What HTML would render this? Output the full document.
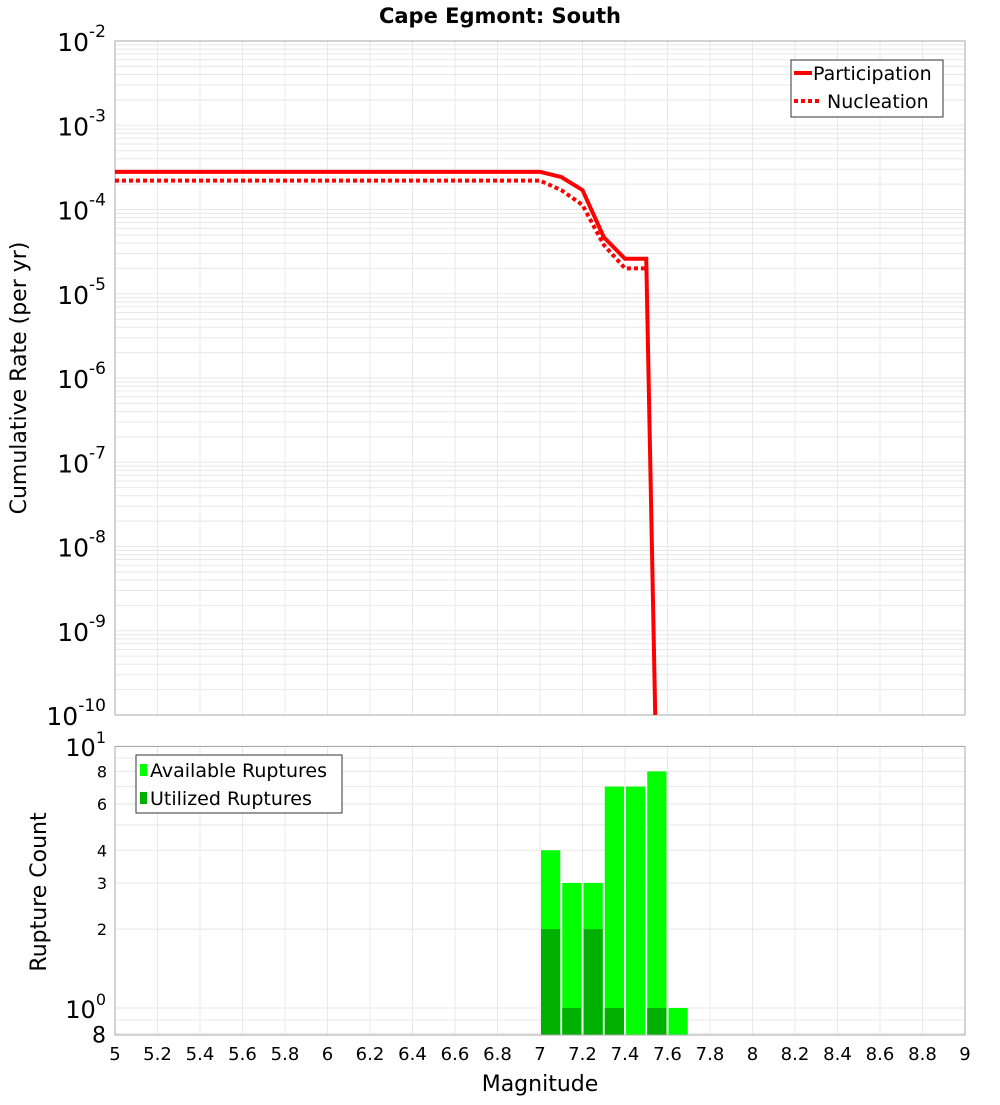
<!DOCTYPE html>
<html><head><meta charset="utf-8"><style>
body{margin:0;background:#fff;font-family:"Liberation Sans","DejaVu Sans",sans-serif}
</style></head><body>
<svg id="c" width="1000" height="1100" xmlns="http://www.w3.org/2000/svg" font-family="DejaVu Sans, Liberation Sans, sans-serif"></svg>
<script>
const xTicks=[5,5.2,5.4,5.6,5.8,6,6.2,6.4,6.6,6.8,7,7.2,7.4,7.6,7.8,8,8.2,8.4,8.6,8.8,9];
const partM=[5,7.0,7.1,7.2,7.3,7.4,7.5,7.55];
const partV=[2.8e-4,2.8e-4,2.43e-4,1.7e-4,4.7e-5,2.6e-5,2.6e-5,1e-11];
const nuclM=[5,7.0,7.1,7.2,7.3,7.4,7.5];
const nuclV=[2.2e-4,2.2e-4,1.7e-4,1.13e-4,3.8e-5,2.0e-5,2.0e-5];
const binM=[7.05,7.15,7.25,7.35,7.45,7.55,7.65];
const availV=[4,3,3,7,7,8,1];
const usedV=[2,1,2,1,0,1,0];
const topExp=[-2,-3,-4,-5,-6,-7,-8,-9,-10];
const botTicks=[[10,'10','1'],[8,'8',''],[6,'6',''],[4,'4',''],[3,'3',''],[2,'2',''],[1,'10','0'],[0.8,'8','']];

const S=document.getElementById('c'),NS='http://www.w3.org/2000/svg';
function el(t,a,p){const e=document.createElementNS(NS,t);for(const k in a)e.setAttribute(k,a[k]);(p||S).appendChild(e);return e;}
const X0=115,X1=965;
const x=m=>X0+(m-5)/4*(X1-X0);
const T0=41,T1=715;
const yT=v=>{let y=T0+(-2-Math.log10(v))*(T1-T0)/8;return y;};
const B0=746.5,B1=1035;
const yB=v=>1008-262*Math.log10(v);

// title
let t=el('text',{x:500,y:23,'text-anchor':'middle','font-size':21,'font-weight':'bold'});t.textContent='Cape Egmont: South';


// top plot grid
let g=el('g',{});
for(let e=-10;e<-2;e++)for(let k=1;k<10;k++){const y=yT(k*Math.pow(10,e));el('line',{x1:X0,x2:X1,y1:y,y2:y,stroke:'#e8e8e8','stroke-width':1},g);}
xTicks.forEach(m=>el('line',{x1:x(m),x2:x(m),y1:T0,y2:T1,stroke:'#e8e8e8'},g));
let r=el('rect',{x:X0,y:T0,width:X1-X0,height:T1-T0,fill:'none',stroke:'#aaa'});

// top y labels
topExp.forEach(e=>{const y=yT(Math.pow(10,e));const tx=el('text',{x:106,y:y+10,'text-anchor':'end','font-size':25});

tx.innerHTML='10<tspan dy="-14" font-size="17">'+e+'</tspan>';});
t=el('text',{x:0,y:0,transform:'translate(26,378) rotate(-90)','text-anchor':'middle','font-size':22});t.textContent='Cumulative Rate (per yr)';


// lines
el('clipPath',{id:'cp'}).appendChild(Object.assign(document.createElementNS(NS,'rect'),{}));
document.querySelector('#cp rect').setAttribute('x',X0);document.querySelector('#cp rect').setAttribute('y',T0);
document.querySelector('#cp rect').setAttribute('width',X1-X0);document.querySelector('#cp rect').setAttribute('height',T1-T0);
let p1=el('polyline',{points:partM.map((m,i)=>x(m)+','+yT(partV[i])).join(' '),fill:'none',stroke:'#f00','stroke-width':4,'clip-path':'url(#cp)'});

let p2=el('polyline',{points:nuclM.map((m,i)=>x(m)+','+yT(nuclV[i])).join(' '),fill:'none',stroke:'#f00','stroke-width':4,'stroke-dasharray':'4 3','clip-path':'url(#cp)'});


// top legend
let lg=el('g',{});
el('rect',{x:791,y:60,width:152,height:57,fill:'#fff',stroke:'#333'},lg);
el('line',{x1:794,x2:812,y1:73,y2:73,stroke:'#f00','stroke-width':4},lg);
el('line',{x1:794,x2:822,y1:101,y2:101,stroke:'#f00','stroke-width':4,'stroke-dasharray':'4 3'},lg);
t=el('text',{x:813,y:80,'font-size':19},lg);t.textContent='Participation';
t=el('text',{x:827,y:108,'font-size':19},lg);t.textContent='Nucleation';

// bottom grid
g=el('g',{});
[0.8,0.9,1,2,3,4,5,6,7,8,9,10].forEach(v=>el('line',{x1:X0,x2:X1,y1:yB(v),y2:yB(v),stroke:'#e8e8e8'},g));
xTicks.forEach(m=>el('line',{x1:x(m),x2:x(m),y1:B0,y2:B1,stroke:'#e8e8e8'},g));
// bars
const bw=(x(5.1)-x(5));
binM.forEach((m,i)=>{
 const b=el('rect',{x:x(m)-bw/2+1,y:yB(availV[i]),width:bw-2,height:B1-yB(availV[i]),fill:'#00ff00'});
 
 if(usedV[i]>0){const u=el('rect',{x:x(m)-bw/2+1,y:yB(usedV[i]),width:bw-2,height:B1-yB(usedV[i]),fill:'#00b000'});
 }
});
r=el('rect',{x:X0,y:B0,width:X1-X0,height:B1-B0,fill:'none',stroke:'#aaa'});

botTicks.forEach(d=>{const y=yB(d[0]);let tx;
 if(d[2]){tx=el('text',{x:d[2]==='1'?106:106,y:y+10,'text-anchor':'end','font-size':24});tx.innerHTML='10<tspan dy="-13" font-size="16">'+d[2]+'</tspan>';}
 else if(d[0]===0.8){tx=el('text',{x:106,y:y+9,'text-anchor':'end','font-size':22});tx.textContent=d[1];}
 else{tx=el('text',{x:107,y:y+6,'text-anchor':'end','font-size':16});tx.textContent=d[1];}
 });
t=el('text',{x:0,y:0,transform:'translate(46,892) rotate(-90)','text-anchor':'middle','font-size':22});t.textContent='Rupture Count';

// bottom legend
lg=el('g',{});
el('rect',{x:136,y:755,width:206,height:58,fill:'#fff',stroke:'#333'},lg);
el('rect',{x:140,y:764,width:7,height:12,fill:'#00ff00'},lg);
el('rect',{x:140,y:792,width:7,height:12,fill:'#00b000'},lg);
t=el('text',{x:150,y:777,'font-size':19},lg);t.textContent='Available Ruptures';
t=el('text',{x:150,y:805,'font-size':19},lg);t.textContent='Utilized Ruptures';
// x ticks
xTicks.forEach(m=>{const tx=el('text',{x:x(m),y:1060,'text-anchor':'middle','font-size':18});tx.textContent=String(m);
 });
t=el('text',{x:540,y:1091,'text-anchor':'middle','font-size':22});t.textContent='Magnitude';

</script>
</body></html>
